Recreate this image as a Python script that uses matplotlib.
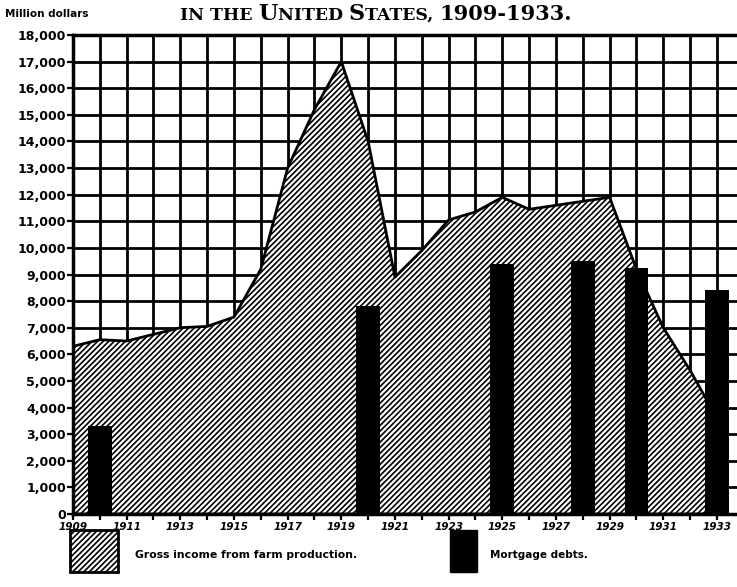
import matplotlib
matplotlib.use('Agg')
import matplotlib.pyplot as plt
from matplotlib.patches import Rectangle

# ---- data ----
years = list(range(1909, 1934))
gross_income = [6300, 6550, 6500, 6750, 7000, 7050, 7400, 9200, 13000, 15200,
                17000, 14000, 8900, 9900, 11050, 11350, 11900, 11450, 11600,
                11750, 11900, 9200, 7000, 5400, 3600]
debt_years = [1910, 1920, 1925, 1928, 1930, 1933]
mortgage_debts = [3300, 7800, 9400, 9520, 9250, 8400]
y_ticks = list(range(0, 18001, 1000))
y_labels = [f"{v:,}" for v in y_ticks]
x_label_years = list(range(1909, 1934, 2))
title_parts = [("IN THE ", 12.5), ("U", 16), ("NITED ", 12.5), ("S", 16),
               ("TATES, ", 12.5), ("1909-1933.", 15)]
legend_labels = ["Gross income from farm production.", "Mortgage debts."]
unit_label = "Million dollars"

W, H = 737, 587
plt.rcParams['hatch.linewidth'] = 1.2
plt.rcParams['hatch.color'] = 'black'

fig = plt.figure(figsize=(W / 100, H / 100), dpi=100)
fig.patch.set_facecolor('white')


def fx(px):
    return px / W


def fy(py):
    return (H - py) / H


ax = fig.add_axes([fx(73), fy(514), 1 - fx(73), fy(35) - fy(514)])
px_per_year = 26.83
ax.set_xlim(1909, 1909 + (W - 73) / px_per_year)
ax.set_ylim(0, 18000)

# grid
ax.set_axisbelow(True)
ax.set_xticks(years)
ax.set_xticklabels([str(y) if y in x_label_years else '' for y in years])
ax.set_yticks(y_ticks)
ax.set_yticklabels(y_labels)
ax.grid(True, color='black', linewidth=2.0, zorder=0)

HATCH = '//////'
# area
ax.fill_between(years, gross_income, 0, facecolor='white', edgecolor='black',
                hatch=HATCH, linewidth=2.0, zorder=2)
# bars
ax.bar(debt_years, mortgage_debts, width=0.88, color='black', zorder=3)

for s in ['left', 'bottom', 'top']:
    ax.spines[s].set_linewidth(2.5)
    ax.spines[s].set_color('black')
ax.spines['right'].set_visible(False)

ax.tick_params(axis='both', direction='out', length=4, width=1.6, color='black')
ax.tick_params(axis='y', pad=1)
ax.tick_params(axis='x', pad=2)
for lab in ax.get_yticklabels():
    lab.set_fontsize(9)
    lab.set_fontweight('heavy')
    lab.set_family('DejaVu Sans')
for lab in ax.get_xticklabels():
    lab.set_fontsize(7.5)
    lab.set_fontweight('heavy')
    lab.set_family('DejaVu Sans')
    lab.set_style('italic')

# unit label
fig.text(fx(5), fy(14), unit_label, fontsize=7.5, fontweight='heavy',
         family='DejaVu Sans', va='center', ha='left')

# title in small caps (pieces placed one after another)
renderer = fig.canvas.get_renderer()
x0 = fx(180)
for txt, size in title_parts:
    t = fig.text(x0, fy(20), txt, fontsize=size, fontweight='bold',
                 family='DejaVu Serif', va='baseline', ha='left')
    bb = t.get_window_extent(renderer=renderer)
    x0 = bb.x1 / W

# legend
r1 = Rectangle((fx(70), fy(572)), fx(118) - fx(70), fy(530) - fy(572),
               transform=fig.transFigure, facecolor='white', edgecolor='black',
               hatch=HATCH, linewidth=2.0)
fig.add_artist(r1)
r2 = Rectangle((fx(450), fy(572)), fx(477) - fx(450), fy(530) - fy(572),
               transform=fig.transFigure, facecolor='black', edgecolor='black',
               linewidth=1.0)
fig.add_artist(r2)
fig.text(fx(135), fy(555), legend_labels[0], fontsize=7.8, fontweight='heavy',
         family='DejaVu Sans', va='center', ha='left')
fig.text(fx(490), fy(555), legend_labels[1], fontsize=7.5, fontweight='heavy',
         family='DejaVu Sans', va='center', ha='left')

fig.savefig('out.png', dpi=100, facecolor='white')
